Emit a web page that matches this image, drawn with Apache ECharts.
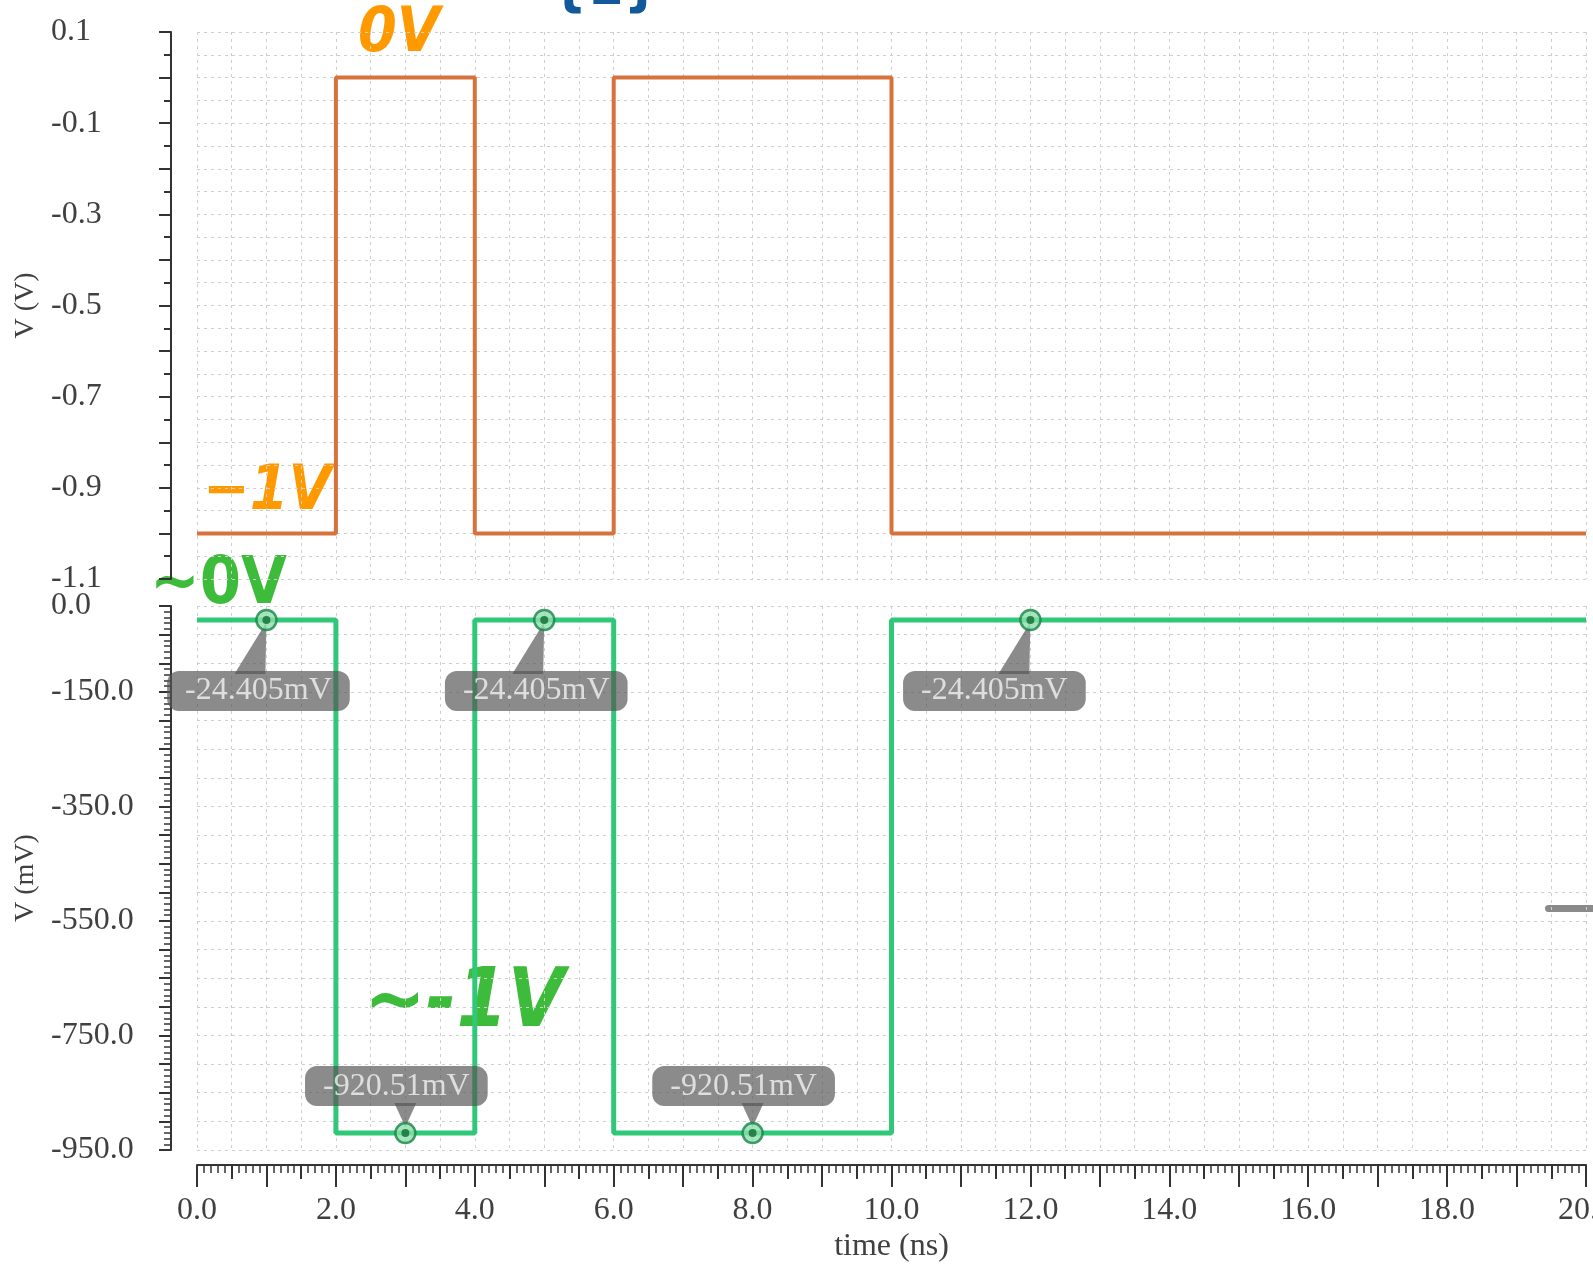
<!DOCTYPE html>
<html>
<head>
<meta charset="utf-8">
<script src="https://cdn.jsdelivr.net/npm/echarts@6/dist/echarts.min.js"></script>
<style>
  html, body { margin: 0; padding: 0; background: #fff; }
  #chart { width: 1593px; height: 1271px; }
</style>
</head>
<body>
<div id="chart"></div>
<script>
// 时间轴 (ns) 上的跳变点
const timeEdges = [0, 2, 4, 6, 10, 20]
// 输入波形 (V)
const vinLevels = [-1, 0, -1, 0, -1, -1]
// 输出波形 (mV)
const voutLevels = [-24.405, -920.51, -24.405, -920.51, -24.405, -24.405]
// 标记点
const markerTimes = [1, 3, 5, 8, 12]
const markerValues = [-24.405, -920.51, -24.405, -920.51, -24.405]
// 刻度标签
const timeLabels = [0, 2, 4, 6, 8, 10, 12, 14, 16, 18, 20]
const topLabels = [0.1, -0.1, -0.3, -0.5, -0.7, -0.9, -1.1]
const bottomLabels = [0, -150, -350, -550, -750, -950]

const serif = '"Liberation Serif", "DejaVu Serif", serif'
const hand = '"DejaVu Sans Condensed", "DejaVu Sans", sans-serif'
const axisColor = '#333'
const textColor = '#404040'
const gridLine = { show: true, lineStyle: { color: '#cfcfcf', type: [3, 4], width: 1 } }
const noZero = { show: true, onZero: false, lineStyle: { color: axisColor, width: 2 } }

const vinData = timeEdges.map((t, i) => [t, vinLevels[i]])
const voutData = timeEdges.map((t, i) => [t, voutLevels[i]])

const highMarks = []
const lowMarks = []
const markers = markerTimes.map((t, i) => {
  const v = markerValues[i]
  const high = v > -500
  if (high) highMarks.push([t, v])
  else lowMarks.push([t, v])
  return {
    value: [t, v],
    label: {
      offset: high ? [i === 4 ? -36 : -8, 71] : [-9, -47]
    }
  }
})

const chart = echarts.init(document.getElementById('chart'))

const option = {
  animation: false,
  backgroundColor: '#fff',
  grid: [
    { left: 197, right: 7, top: 32, height: 547, outerBoundsMode: 'none' },
    { left: 197, right: 7, top: 606, height: 544, outerBoundsMode: 'none' },
    // 只用来画 1ns 的长刻度
    { left: 197, right: 7, top: 606, height: 544, outerBoundsMode: 'none' }
  ],
  xAxis: [
    {
      // 上图只画竖直网格
      gridIndex: 0, type: 'value', min: 0, max: 20, interval: 0.5,
      axisLine: { show: false, onZero: false }, axisTick: { show: false }, axisLabel: { show: false },
      splitLine: gridLine
    },
    {
      gridIndex: 1, type: 'value', min: 0, max: 20, interval: 0.5,
      position: 'bottom', offset: 15,
      axisLine: noZero,
      axisTick: { show: true, length: 14, lineStyle: { color: axisColor, width: 2 } },
      minorTick: { show: true, splitNumber: 5, length: 8, lineStyle: { color: axisColor, width: 1.5 } },
      axisLabel: {
        customValues: timeLabels,
        formatter: v => v.toFixed(1),
        margin: 30,
        fontFamily: serif, fontSize: 32, color: textColor
      },
      splitLine: gridLine,
      name: 'time (ns)',
      nameLocation: 'middle',
      nameGap: 66,
      nameTextStyle: { fontFamily: serif, fontSize: 32, color: textColor }
    },
    {
      gridIndex: 2, type: 'value', min: 0, max: 20, interval: 1,
      position: 'bottom', offset: 15,
      axisLine: { show: false, onZero: false },
      axisTick: { show: true, length: 22, lineStyle: { color: axisColor, width: 2 } },
      axisLabel: { show: false },
      splitLine: { show: false }
    }
  ],
  yAxis: [
    {
      gridIndex: 0, type: 'value', min: -1.1, max: 0.1, interval: 0.1,
      offset: 26,
      axisLine: noZero,
      axisTick: { show: true, length: 12, lineStyle: { color: axisColor, width: 2 } },
      minorTick: { show: true, splitNumber: 2, length: 7, lineStyle: { color: axisColor, width: 2 } },
      axisLabel: {
        customValues: topLabels,
        formatter: v => v.toFixed(1),
        align: 'left', margin: 120,
        fontFamily: serif, fontSize: 32, color: textColor
      },
      splitLine: gridLine,
      minorSplitLine: gridLine,
      name: 'V (V)',
      nameLocation: 'middle',
      nameGap: 124,
      nameTextStyle: { fontFamily: serif, fontSize: 28, color: textColor }
    },
    {
      gridIndex: 1, type: 'value', min: -950, max: 0, interval: 50,
      offset: 26,
      axisLine: noZero,
      axisTick: { show: true, length: 12, lineStyle: { color: axisColor, width: 2 } },
      minorTick: { show: true, splitNumber: 5, length: 7, lineStyle: { color: axisColor, width: 1.5 } },
      axisLabel: {
        customValues: bottomLabels,
        formatter: v => v.toFixed(1),
        align: 'left', margin: 120,
        fontFamily: serif, fontSize: 32, color: textColor
      },
      splitLine: gridLine,
      name: 'V (mV)',
      nameLocation: 'middle',
      nameGap: 126,
      nameTextStyle: { fontFamily: serif, fontSize: 28, color: textColor }
    },
    {
      gridIndex: 2, type: 'value', min: -950, max: 0, show: false
    }
  ],
  series: [
    {
      name: 'vin', type: 'line', xAxisIndex: 0, yAxisIndex: 0,
      step: 'end', showSymbol: false, data: vinData,
      lineStyle: { color: '#d8723c', width: 4 }
    },
    {
      name: 'vout', type: 'line', xAxisIndex: 1, yAxisIndex: 1,
      step: 'end', showSymbol: false, data: voutData,
      lineStyle: { color: '#30c878', width: 5 }
    },
    {
      // 高电平标签的指针
      type: 'scatter', xAxisIndex: 1, yAxisIndex: 1, z: 3,
      data: highMarks,
      symbol: 'path://M30,0 L0,52 L29,52 Z',
      symbolSize: [32, 52],
      symbolOffset: [-16, 28],
      itemStyle: { color: 'rgba(85,85,85,0.85)' }
    },
    {
      // 低电平标签的指针
      type: 'scatter', xAxisIndex: 1, yAxisIndex: 1, z: 3,
      data: lowMarks,
      symbol: 'triangle',
      symbolRotate: 180,
      symbolSize: [22, 24],
      symbolOffset: [0, -18],
      itemStyle: { color: 'rgba(85,85,85,0.85)' }
    },
    {
      type: 'scatter', xAxisIndex: 1, yAxisIndex: 1, z: 4,
      data: markers,
      symbol: 'circle',
      symbolSize: 20,
      itemStyle: { color: '#8fdfae', borderColor: '#178442', borderWidth: 2.5 },
      label: {
        show: true,
        position: 'inside',
        formatter: p => p.value[1] + 'mV',
        fontFamily: serif, fontSize: 32, lineHeight: 32,
        color: '#f2f2f2',
        backgroundColor: 'rgba(85,85,85,0.85)',
        borderRadius: 12,
        padding: [4, 18]
      }
    },
    {
      // 标记点中心
      type: 'scatter', xAxisIndex: 1, yAxisIndex: 1, z: 5,
      data: markers.map(m => m.value),
      symbol: 'circle',
      symbolSize: 8,
      itemStyle: { color: '#0c6b30' }
    }
  ],
  // 手写标注
  graphic: [
    { type: 'text', left: 358, top: 4, style: { text: '0V', font: 'bold italic 62px ' + hand, fill: '#ff9900' } },
    { type: 'text', left: 550, top: -40, style: { text: '{1}', font: 'bold 58px ' + hand, fill: '#14589c' } },
    { type: 'text', left: 203, top: 462, style: { text: '−1V', font: 'bold italic 62px ' + hand, fill: '#ff9900' } },
    { type: 'text', left: 150, top: 553, style: { text: '~0V', font: 'bold 66px ' + hand, fill: '#3dbb3a' } },
    { type: 'text', left: 364, top: 964, style: { text: '~-1V', font: 'bold italic 82px ' + hand, fill: '#3dbb3a' } },
    { type: 'rect', left: 1545, top: 905, shape: { width: 60, height: 7, r: 3.5 }, style: { fill: '#8a8a8a' } }
  ]
}

chart.setOption(option)
</script>
</body>
</html>
